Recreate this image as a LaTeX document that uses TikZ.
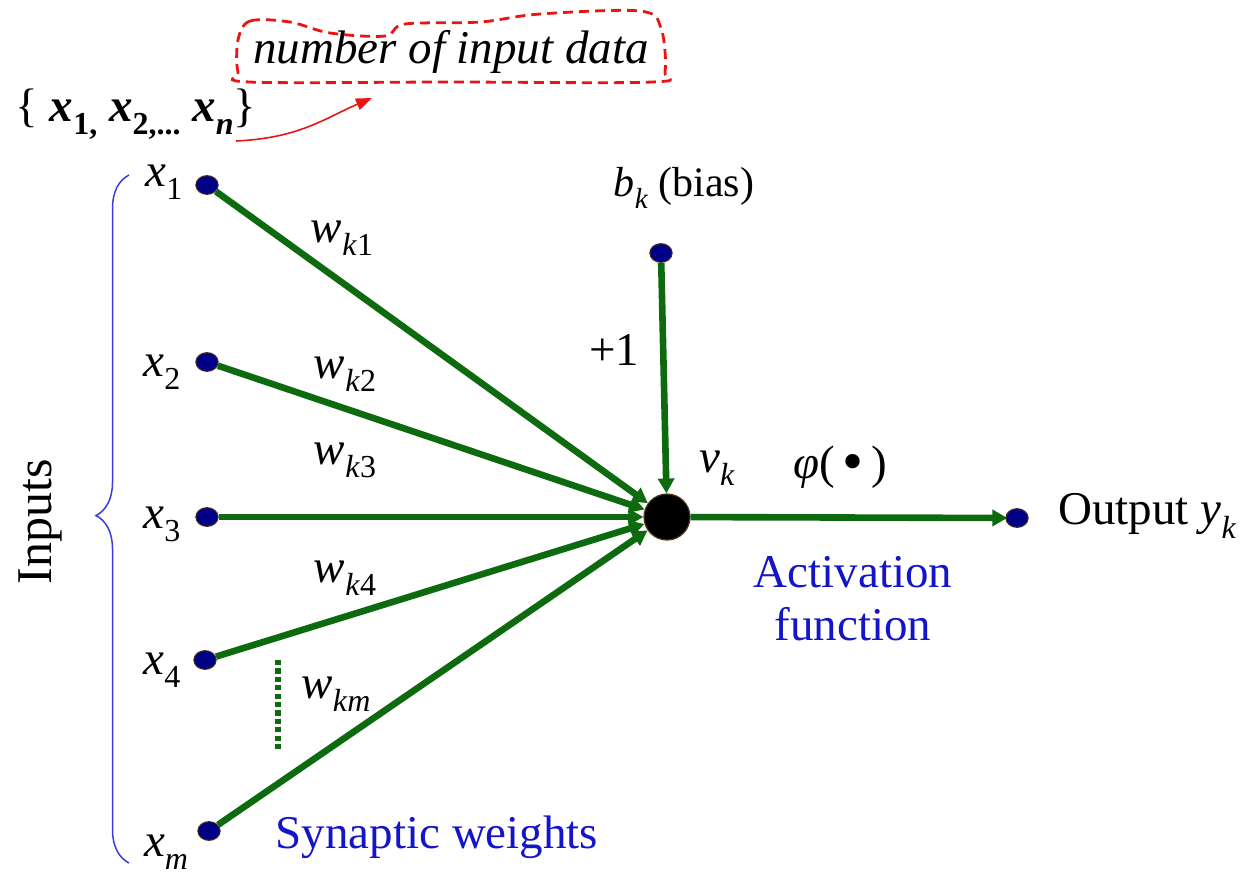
\documentclass[tikz,border=0pt]{standalone}
\usepackage{fontspec}
\setmainfont{Liberation Serif}
\usetikzlibrary{arrows.meta,shapes.geometric,decorations.pathreplacing}
\definecolor{wgreen}{RGB}{14,106,14}
\definecolor{navy}{RGB}{0,0,135}
\definecolor{tblue}{RGB}{20,20,200}
\definecolor{bblue}{RGB}{60,60,215}
\definecolor{cred}{RGB}{235,20,20}
\newcommand{\lowr}[1]{\raisebox{-0.28em}{\fontsize{16}{16}\selectfont #1}}
\newcommand{\xin}[1]{\textit{x}\lowr{#1}}
\newcommand{\wk}[1]{\textit{w}\lowr{\textit{k}#1}}
\begin{document}
\begin{tikzpicture}[x=0.5pt,y=-0.5pt,
  every node/.style={font=\fontsize{23.5}{28}\selectfont, inner sep=0pt},
  dot/.style={ellipse, minimum width=11.2pt, minimum height=9.4pt, fill=navy, draw=black!60!brown, line width=0.5pt},
  neuron/.style={circle, minimum size=23pt, fill=black, draw=black!60!brown, line width=0.6pt},
  warrow/.style={draw=wgreen, line width=3.3pt, -{Triangle[length=7.5pt,width=8pt]}},
  bluetext/.style={text=tblue}]
\useasboundingbox (0,0) rectangle (1243,880);
% nodes
\node[dot] (x1) at (207,185) {};
\node[dot] (x2) at (207,362) {};
\node[dot] (x3) at (207,517) {};
\node[dot] (x4) at (205,660) {};
\node[dot] (xm) at (209,831) {};
\node[dot] (b) at (661,253) {};
\node[neuron] (n) at (667,517) {};
\node[dot] (y) at (1017,518) {};
% connectors
\draw[warrow] (x1) -- (n);
\draw[warrow] (x2) -- (n);
\draw[warrow] (x3) -- (n);
\draw[warrow] (x4) -- (n);
\draw[warrow] (xm) -- (n);
\draw[warrow] (b) -- (n);
\draw[warrow, shorten >=-1pt] (n) -- (y);
% dotted
\draw[wgreen, line width=2.6pt, dash pattern=on 2.6pt off 1.6pt] (278,660) -- (278,750);
% input labels
\node (lx1) at (164,182) {\xin{1}};
\node (lx2) at (162,372) {\xin{2}};
\node (lx3) at (162,524) {\xin{3}};
\node (lx4) at (162,670) {\xin{4}};
\node (lxm) at (166,852) {\xin{\textit{m}}};
% weights
\node (w1) at (342,238) {\wk{1}};
\node (w2) at (345,374) {\wk{2}};
\node (w3) at (345,460) {\wk{3}};
\node (w4) at (345,578) {\wk{4}};
\node (wm) at (336,694) {\wk{\textit{m}}};
% other labels
\node[font=\fontsize{21}{25}\selectfont] (bl) at (684,188) {\textit{b}\raisebox{-0.28em}{\fontsize{14.5}{14.5}\selectfont\textit{k}} (bias)};
\node (p1) at (614,350) {+1};
\node (vk) at (717,468) {\textit{v}\lowr{\textit{k}}};
\node (phi) at (840,467) {\textit{φ}(\,\raisebox{-0.07em}{\fontsize{30}{30}\selectfont •}\,)};
\node[anchor=west] (out) at (1058,516) {Output \textit{y}\lowr{\textit{k}}};
\node[bluetext] (act1) at (853,572) {Activation};
\node[bluetext] (act2) at (853,624) {function};
\node[bluetext] (syn) at (437,837) {Synaptic weights};
\node[rotate=90, font=\fontsize{25}{30}\selectfont] (inp) at (40,522) {Inputs};
% brace
\draw[bblue, line width=0.75pt, decorate, decoration={brace, amplitude=16.5pt, aspect=0.505}] (129,863) -- (129,175);
% top annotation
\node (set) at (136,114) {\{ \textbf{\textit{x}}\lowr{\textbf{1,}} \textbf{\textit{x}}\lowr{\textbf{2,...}} \textbf{\textit{x}}\lowr{\textbf{\textit{n}}}\}};
\node (num) at (451,52) {\textit{number of input data}};
\draw[cred, line width=1.4pt, dash pattern=on 5pt off 3pt]
  plot[smooth cycle, tension=0.55] coordinates {(238,40) (250,21) (290,22) (330,33) (385,36) (405,24) (480,22) (540,14) (640,11) (661,28) (665,72) (652,82) (450,82) (250,82) (238,72)};
\coordinate (as) at (236,141);
\coordinate (ae) at (372,98);
\draw[cred, line width=0.8pt, -{Triangle[length=8pt,width=6pt]}] (as) .. controls (300,138) and (325,118) .. (ae);
\end{tikzpicture}
\end{document}
